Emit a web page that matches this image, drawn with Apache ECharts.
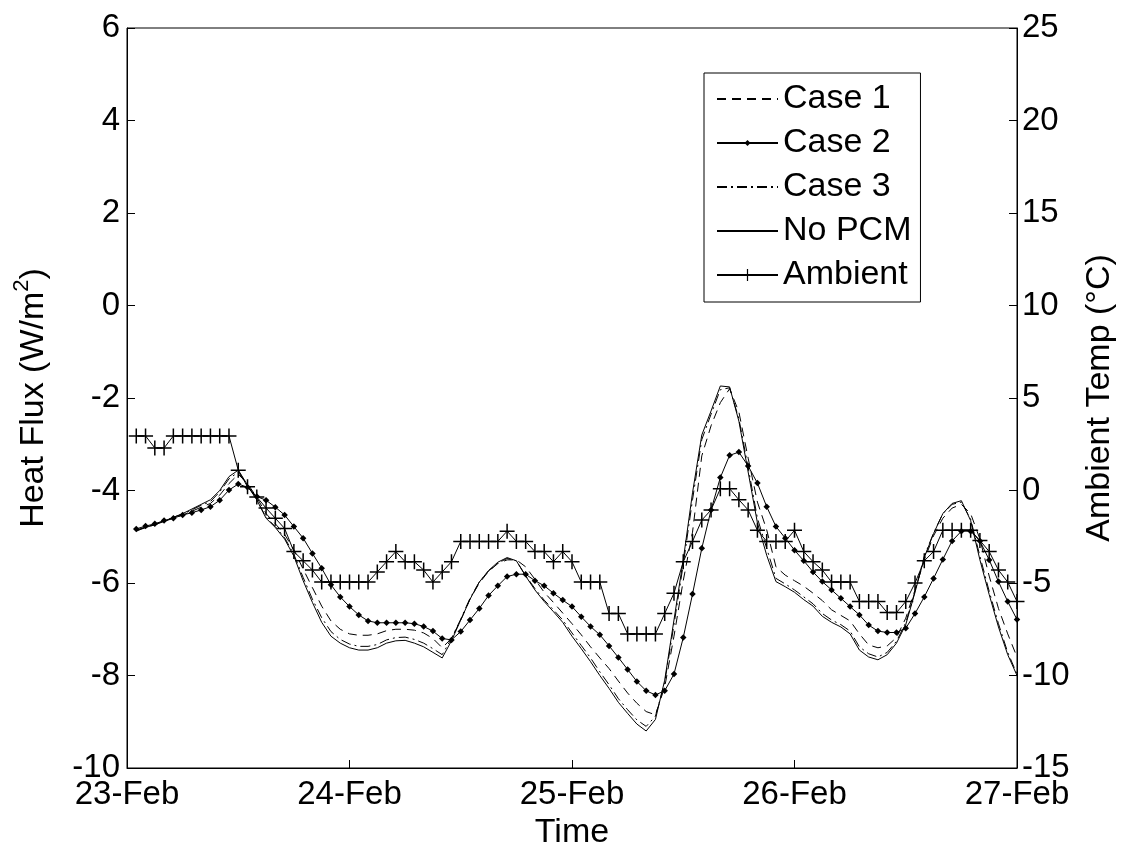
<!DOCTYPE html>
<html>
<head>
<meta charset="utf-8">
<script src="https://cdn.jsdelivr.net/npm/echarts@6/dist/echarts.min.js"></script>
<style>
  html, body { margin: 0; padding: 0; background: #fff; }
  #chart { width: 1131px; height: 848px; }
</style>
</head>
<body>
<div id="chart"></div>
<script>
// Hourly samples, 23-Feb 01:00 .. 27-Feb 00:00 (hour index 1..96)
const xTickLabels = ['23-Feb', '24-Feb', '25-Feb', '26-Feb', '27-Feb'];

const case1 = [
  -4.86, -4.80, -4.74, -4.67, -4.60, -4.53, -4.45, -4.36, -4.28, -4.10,
  -3.85, -3.65, -3.85, -4.15, -4.50, -4.72, -4.95, -5.28, -5.70, -6.10,
  -6.50, -6.82, -7.00, -7.10, -7.13, -7.13, -7.10, -7.03, -7.00, -7.00,
  -7.02, -7.08, -7.20, -7.40, -7.20, -6.80, -6.35, -6.00, -5.75, -5.58,
  -5.50, -5.50, -5.65, -5.92, -6.20, -6.42, -6.65, -6.88, -7.12, -7.38,
  -7.62, -7.85, -8.12, -8.38, -8.60, -8.78, -8.85, -8.25, -7.15, -5.95,
  -4.90, -3.25, -2.60, -2.10, -1.80, -2.30, -3.30, -4.25, -4.85, -5.65,
  -5.83, -5.95, -6.07, -6.22, -6.38, -6.58, -6.70, -6.82, -7.10, -7.34,
  -7.40, -7.36, -7.18, -6.76, -6.15, -5.50, -4.98, -4.60, -4.38, -4.30,
  -4.50, -5.05, -5.85, -6.55, -7.10, -7.60
];

const case2 = [
  -4.83, -4.77, -4.72, -4.65, -4.60, -4.53, -4.48, -4.42, -4.35, -4.21,
  -3.99, -3.86, -3.93, -4.13, -4.21, -4.36, -4.53, -4.78, -5.03, -5.36,
  -5.68, -6.04, -6.30, -6.51, -6.69, -6.82, -6.86, -6.86, -6.86, -6.86,
  -6.88, -6.94, -7.04, -7.20, -7.23, -7.05, -6.80, -6.55, -6.27, -6.06,
  -5.86, -5.81, -5.81, -5.95, -6.06, -6.22, -6.37, -6.51, -6.73, -6.94,
  -7.12, -7.36, -7.61, -7.87, -8.13, -8.33, -8.42, -8.33, -7.97, -7.18,
  -6.24, -5.25, -4.42, -3.72, -3.24, -3.17, -3.47, -3.84, -4.35, -4.78,
  -5.03, -5.29, -5.52, -5.76, -5.97, -6.15, -6.33, -6.51, -6.69, -6.91,
  -7.04, -7.07, -7.07, -6.98, -6.66, -6.30, -5.90, -5.49, -5.09, -4.88,
  -4.88, -5.09, -5.50, -5.97, -6.40, -6.79
];

const case3 = [
  -4.86, -4.79, -4.73, -4.66, -4.58, -4.51, -4.42, -4.32, -4.24, -4.03,
  -3.75, -3.60, -3.90, -4.20, -4.58, -4.78, -5.02, -5.38, -5.88, -6.35,
  -6.75, -7.05, -7.22, -7.32, -7.37, -7.37, -7.33, -7.23, -7.18, -7.17,
  -7.22, -7.30, -7.42, -7.55, -7.20, -6.78, -6.33, -5.98, -5.74, -5.57,
  -5.47, -5.52, -5.84, -6.12, -6.37, -6.58, -6.80, -7.08, -7.35, -7.62,
  -7.92, -8.20, -8.50, -8.74, -8.96, -9.10, -8.88, -8.15, -6.90, -5.60,
  -4.20, -2.90, -2.35, -1.82, -1.78, -2.45, -3.50, -4.60, -5.25, -5.90,
  -6.02, -6.15, -6.30, -6.45, -6.66, -6.80, -6.90, -7.04, -7.38, -7.53,
  -7.60, -7.50, -7.26, -6.86, -6.18, -5.42, -4.92, -4.50, -4.30, -4.25,
  -4.62, -5.42, -6.18, -6.88, -7.50, -7.97
];

const noPCM = [
  -4.88, -4.80, -4.74, -4.67, -4.58, -4.50, -4.40, -4.30, -4.20, -4.00,
  -3.70, -3.56, -3.88, -4.20, -4.60, -4.80, -5.05, -5.42, -5.95, -6.42,
  -6.85, -7.15, -7.30, -7.40, -7.45, -7.45, -7.40, -7.30, -7.25, -7.24,
  -7.30, -7.38, -7.50, -7.62, -7.25, -6.80, -6.35, -5.98, -5.73, -5.55,
  -5.45, -5.52, -5.85, -6.15, -6.40, -6.62, -6.85, -7.15, -7.42, -7.70,
  -8.00, -8.28, -8.58, -8.82, -9.05, -9.20, -8.95, -8.10, -6.80, -5.50,
  -4.05, -2.80, -2.28, -1.74, -1.76, -2.50, -3.60, -4.70, -5.40, -5.97,
  -6.08, -6.20, -6.36, -6.50, -6.72, -6.85, -6.95, -7.10, -7.45, -7.60,
  -7.66, -7.55, -7.30, -6.90, -6.20, -5.45, -4.93, -4.50, -4.28, -4.22,
  -4.65, -5.50, -6.25, -6.95, -7.55, -8.00
];

const ambient = [
  2.95, 2.95, 2.30, 2.30, 2.95, 2.95, 2.95, 2.95, 2.95, 2.95,
  2.95, 1.10, 0.20, -0.35, -0.95, -1.50, -2.05, -3.30, -3.80, -4.30,
  -4.95, -4.95, -4.95, -4.95, -4.95, -4.95, -4.40, -3.85, -3.30, -3.85,
  -3.85, -4.30, -4.95, -4.40, -3.85, -2.75, -2.75, -2.75, -2.75, -2.75,
  -2.20, -2.75, -2.75, -3.30, -3.30, -3.85, -3.30, -3.85, -4.95, -4.95,
  -4.95, -6.65, -6.65, -7.75, -7.75, -7.75, -7.75, -6.65, -5.55, -3.85,
  -2.75, -1.60, -1.05, 0.10, 0.10, -0.50, -1.05, -2.15, -2.75, -2.75,
  -2.75, -2.15, -3.30, -3.85, -4.30, -4.95, -4.95, -4.95, -6.00, -6.00,
  -6.00, -6.60, -6.60, -6.00, -5.00, -3.80, -3.30, -2.15, -2.15, -2.15,
  -2.15, -2.70, -3.30, -4.30, -4.95, -6.00
];

const toPairs = arr => arr.map((v, i) => [i + 1, v]);

const FONT = "'Liberation Sans', Arial, Helvetica, sans-serif";
const plusPath = 'path://M9,0h2v9h9v2h-9v9h-2v-9h-9v-2h9z';
const dotPath = 'path://M0,0M20,20M10,5L15,10L10,15L5,10Z';

const chart = echarts.init(document.getElementById('chart'), null, { renderer: 'canvas' });

const lineBase = { type: 'line', smooth: false, animation: false };
const hiddenSym = { color: 'rgba(0,0,0,0)', borderWidth: 0, borderColor: 'rgba(0,0,0,0)' };

chart.setOption({
  backgroundColor: '#ffffff',
  animation: false,
  textStyle: { fontFamily: FONT, color: '#000' },
  grid: {
    left: 127, right: 114, top: 28, bottom: 80,
    containLabel: false,
    outerBoundsMode: 'none',
    show: true, borderColor: '#000', borderWidth: 1, backgroundColor: 'transparent'
  },
  legend: {
    orient: 'vertical',
    left: 704, top: 73,
    padding: [8, 9, 9, 12],
    backgroundColor: '#fff',
    borderColor: '#000',
    borderWidth: 1,
    itemWidth: 61,
    itemHeight: 15,
    itemGap: 8,
    textStyle: { fontFamily: FONT, fontSize: 34, color: '#000', lineHeight: 36 },
    data: ['Case 1', 'Case 2', 'Case 3', 'No PCM', 'Ambient']
  },
  xAxis: {
    type: 'value', min: 0, max: 96, interval: 24,
    name: 'Time', nameLocation: 'middle', nameGap: 43,
    nameTextStyle: { fontFamily: FONT, fontSize: 34, color: '#000' },
    axisLine: { show: true, onZero: false, lineStyle: { color: '#000', width: 1 } },
    axisTick: { show: true, inside: true, length: 8, lineStyle: { color: '#000' } },
    axisLabel: {
      fontFamily: FONT, fontSize: 33, color: '#000', margin: 10,
      formatter: v => xTickLabels[Math.round(v / 24)]
    },
    splitLine: { show: false }
  },
  yAxis: [
    {
      type: 'value', min: -10, max: 6, interval: 2, position: 'left',
      name: '{a|Heat Flux (W/m}{s|2}{a|)}', nameLocation: 'middle', nameGap: 76, nameRotate: 90,
      nameTextStyle: {
        fontFamily: FONT, fontSize: 34, color: '#000',
        rich: {
          a: { fontFamily: FONT, fontSize: 34, color: '#000', lineHeight: 40, verticalAlign: 'bottom' },
          s: { fontFamily: FONT, fontSize: 22, color: '#000', lineHeight: 40, verticalAlign: 'top' }
        }
      },
      axisLine: { show: true, onZero: false, lineStyle: { color: '#000', width: 1 } },
      axisTick: { show: true, inside: true, length: 8, lineStyle: { color: '#000' } },
      axisLabel: { fontFamily: FONT, fontSize: 33, color: '#000', margin: 7 },
      splitLine: { show: false }
    },
    {
      type: 'value', min: -15, max: 25, interval: 5, position: 'right',
      name: 'Ambient Temp (°C)', nameLocation: 'middle', nameGap: 66, nameRotate: 90,
      nameTextStyle: { fontFamily: FONT, fontSize: 34, color: '#000' },
      axisLine: { show: true, onZero: false, lineStyle: { color: '#000', width: 1 } },
      axisTick: { show: true, inside: true, length: 8, lineStyle: { color: '#000' } },
      axisLabel: { fontFamily: FONT, fontSize: 33, color: '#000', margin: 5 },
      splitLine: { show: false }
    }
  ],
  series: [
    Object.assign({}, lineBase, {
      name: 'Case 1', data: toPairs(case1), yAxisIndex: 0,
      symbol: 'none', showSymbol: false,
      lineStyle: { color: '#000', width: 1, type: [9, 6] },
      itemStyle: hiddenSym
    }),
    Object.assign({}, lineBase, {
      name: 'Case 2', data: toPairs(case2), yAxisIndex: 0,
      symbol: dotPath, symbolSize: 13, showSymbol: true,
      lineStyle: { color: '#000', width: 1 },
      itemStyle: { color: '#000', borderWidth: 0 }
    }),
    Object.assign({}, lineBase, {
      name: 'Case 3', data: toPairs(case3), yAxisIndex: 0,
      symbol: 'none', showSymbol: false,
      lineStyle: { color: '#000', width: 1, type: [10, 4, 2, 4] },
      itemStyle: hiddenSym
    }),
    Object.assign({}, lineBase, {
      name: 'No PCM', data: toPairs(noPCM), yAxisIndex: 0,
      symbol: 'none', showSymbol: false,
      lineStyle: { color: '#000', width: 1 },
      itemStyle: hiddenSym
    }),
    Object.assign({}, lineBase, {
      name: 'Ambient', data: toPairs(ambient), yAxisIndex: 1,
      symbol: plusPath, symbolSize: 15, showSymbol: true,
      lineStyle: { color: '#000', width: 1 },
      itemStyle: { color: '#000', borderWidth: 0 }
    })
  ]
});
</script>
</body>
</html>
